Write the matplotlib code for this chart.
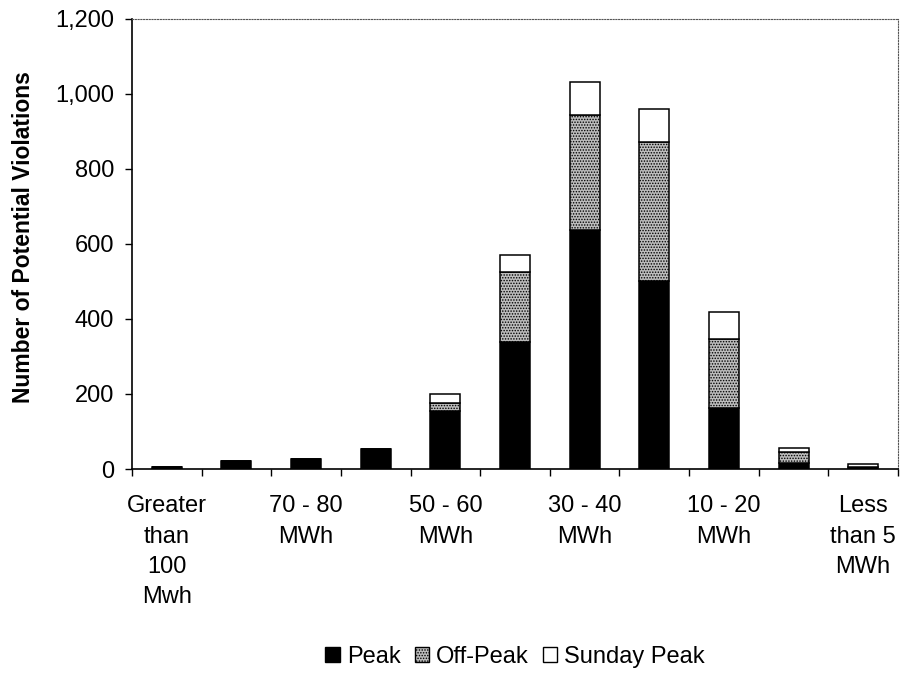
import matplotlib
matplotlib.use("Agg")
import matplotlib.pyplot as plt
from matplotlib.patches import Patch
from matplotlib.ticker import FuncFormatter, FixedLocator
import numpy as np

plt.rcParams['font.family'] = ['Liberation Sans', 'DejaVu Sans']
plt.rcParams['hatch.linewidth'] = 0.7

categories = ["Greater\nthan\n100\nMwh", "80 - 100\nMWh", "70 - 80\nMWh", "60 - 70\nMWh",
              "50 - 60\nMWh", "40 - 50\nMWh", "30 - 40\nMWh", "20 - 30\nMWh",
              "10 - 20\nMWh", "5 - 10\nMWh", "Less\nthan 5\nMWh"]
peak = [4, 20, 27, 53, 155, 338, 637, 500, 162, 17, 4]
off_peak = [0, 0, 0, 0, 22, 188, 307, 370, 185, 29, 1]
sunday_peak = [0, 0, 0, 0, 22, 43, 87, 90, 71, 9, 7]
series_names = ["Peak", "Off-Peak", "Sunday Peak"]
y_ticks = [0, 200, 400, 600, 800, 1000, 1200]

OFF_FACE = '#bcbcbc'

fig = plt.figure(figsize=(9, 6.75), dpi=100)
ax = fig.add_axes([132/900, 1 - 469/675, (898 - 132)/900, (469 - 18.5)/675])

x = np.arange(len(categories))
w = 0.43
p = np.array(peak)
o = np.array(off_peak)
s = np.array(sunday_peak)
ax.bar(x, p, w, color='black', edgecolor='black', linewidth=1.1, label=series_names[0])
ax.bar(x, o, w, bottom=p, color=OFF_FACE, edgecolor='black', hatch='......', linewidth=1.1, label=series_names[1])
ax.bar(x, s, w, bottom=p + o, color='white', edgecolor='black', linewidth=1.1, label=series_names[2])

ax.set_xlim(-0.5, len(categories) - 0.5)
ax.set_ylim(0, 1200)
ax.set_yticks(y_ticks)
ax.yaxis.set_major_formatter(FuncFormatter(lambda v, _: f"{int(v):,}"))
ax.tick_params(axis='y', labelsize=17, length=5, width=1, pad=8, direction='out')

# category boundary ticks
ax.xaxis.set_minor_locator(FixedLocator(np.arange(-0.5, len(categories), 1.0)))
ax.tick_params(axis='x', which='minor', length=5, width=1, direction='out')
shown = [i for i in range(len(categories)) if i % 2 == 0]
ax.set_xticks(shown)
ax.set_xticklabels([categories[i] for i in shown], fontsize=17, linespacing=1.48)
ax.tick_params(axis='x', which='major', length=0, pad=19)

for side in ['left', 'bottom']:
    ax.spines[side].set_linewidth(1.2)
    ax.spines[side].set_color('black')
for side in ['top', 'right']:
    ax.spines[side].set_linewidth(0.8)
    ax.spines[side].set_linestyle((0, (1, 1.5)))
    ax.spines[side].set_color('#555555')

ax.set_ylabel("Number of Potential Violations", fontsize=16.5, fontweight='bold')
ax.yaxis.set_label_coords((35 - 132)/766, 0.515)

handles = [Patch(facecolor='black', edgecolor='black', linewidth=1),
           Patch(facecolor=OFF_FACE, edgecolor='black', hatch='......', linewidth=1),
           Patch(facecolor='white', edgecolor='black', linewidth=1)]
fig.legend(handles, series_names, loc='center', bbox_to_anchor=(515/900, 1 - 657/675),
           ncol=3, frameon=False, fontsize=17, handlelength=0.6, handleheight=0.6,
           handletextpad=0.3, columnspacing=0.6)

fig.savefig("out.png", dpi=100)
